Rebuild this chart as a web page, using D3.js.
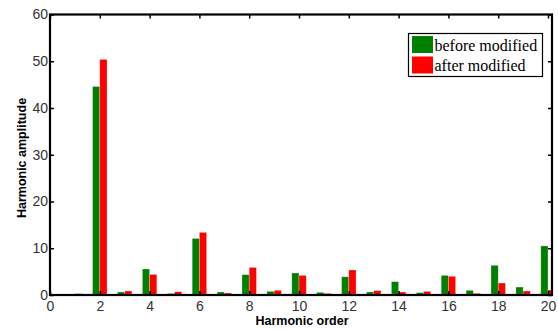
<!DOCTYPE html>
<html><head><meta charset="utf-8">
<script src="https://cdn.jsdelivr.net/npm/d3@7"></script>
<style>body{margin:0;background:#fff}svg{display:block}</style>
</head><body><svg id="c" width="558" height="329"></svg>
<script>
const harmonics = [1,2,3,4,5,6,7,8,9,10,11,12,13,14,15,16,17,18,19,20];
const before = [0.15,44.6,0.64,5.56,0.35,12.1,0.64,4.35,0.78,4.7,0.57,3.9,0.64,2.85,0.5,4.2,1.0,6.35,1.7,10.5];
const after  = [0.3,50.4,0.85,4.4,0.7,13.4,0.43,5.9,1.0,4.2,0.36,5.35,0.93,0.64,0.78,4.0,0.36,2.56,0.85,1.07];
const xTicks = [0,2,4,6,8,10,12,14,16,18,20];
const yTicks = [0,10,20,30,40,50,60];
const seriesNames = ["before modified","after modified"];
const seriesColors = ["#008000","#ff0000"];

const svg = d3.select("#c");
const L=50, R=552, T=14.5, B=295;
const x = d3.scaleLinear().domain([0,20.16]).range([L,R]);
const y = d3.scaleLinear().domain([0,60]).range([B,T]);
const bw = x(0.29)-x(0);

svg.append("defs").append("clipPath").attr("id","pc")
  .append("rect").attr("x",L).attr("y",T).attr("width",R-L).attr("height",B-T);

const g = svg.append("g").attr("clip-path","url(#pc)");
[before, after].forEach((vals, si) => {
  g.selectAll(null).data(vals).enter().append("rect")
    .attr("x",(d,i)=> si===0 ? x(harmonics[i])-bw : x(harmonics[i]))
    .attr("y",d=>y(d))
    .attr("width",bw)
    .attr("height",d=>B-y(d))
    .attr("fill",seriesColors[si])
    .attr("stroke","rgba(255,255,255,0.45)")
    .attr("stroke-width",0.6);
});

const font = "Helvetica, Arial, 'Liberation Sans', sans-serif";
// axes
const axB = svg.append("g").attr("transform",`translate(0,${B})`)
  .call(d3.axisBottom(x).tickValues(xTicks).tickSizeInner(-4).tickSizeOuter(0).tickPadding(8).tickFormat(d3.format("d")));
const axT = svg.append("g").attr("transform",`translate(0,${T})`)
  .call(d3.axisTop(x).tickValues(xTicks).tickSizeInner(-4).tickSizeOuter(0).tickFormat(""));
const axL = svg.append("g").attr("transform",`translate(${L},0)`)
  .call(d3.axisLeft(y).tickValues(yTicks).tickSizeInner(-4).tickSizeOuter(0).tickPadding(2).tickFormat(d3.format("d")));
const axR = svg.append("g").attr("transform",`translate(${R},0)`)
  .call(d3.axisRight(y).tickValues(yTicks).tickSizeInner(-4).tickSizeOuter(0).tickFormat(""));
[axB,axT,axL,axR].forEach(a=>{
  a.select(".domain").remove();
  a.selectAll(".tick line").attr("stroke","#000").attr("stroke-width",1.5);
  a.selectAll("text").attr("font-family",font).attr("font-size",14).attr("fill","#333");
});
axB.selectAll("text").attr("dy","0.6em");
svg.append("rect").attr("x",L).attr("y",T).attr("width",R-L).attr("height",B-T)
  .attr("fill","none").attr("stroke","#000").attr("stroke-width",2.2);

// titles
svg.append("text").attr("x",302).attr("y",325).attr("text-anchor","middle")
  .attr("font-family",font).attr("font-weight","bold").attr("font-size",12.5).attr("fill","#000")
  .text("Harmonic order");
svg.append("text").attr("transform","translate(26,158) rotate(-90)").attr("text-anchor","middle")
  .attr("font-family",font).attr("font-weight","bold").attr("font-size",12.5).attr("fill","#000")
  .text("Harmonic amplitude");

// legend
const lg = svg.append("g");
lg.append("rect").attr("x",408.5).attr("y",33.5).attr("width",134).attr("height",43)
  .attr("fill","#fff").attr("stroke","#000").attr("stroke-width",1.2);
seriesNames.forEach((n,i)=>{
  lg.append("rect").attr("x",412).attr("y",36+i*20.5).attr("width",21).attr("height",17)
    .attr("fill",seriesColors[i]);
  lg.append("text").attr("x",434.5).attr("y",50.5+i*20.5)
    .attr("font-family","'Times New Roman','Liberation Serif',serif").attr("font-size",16)
    .attr("fill","#000").text(n);
});
</script></body></html>
